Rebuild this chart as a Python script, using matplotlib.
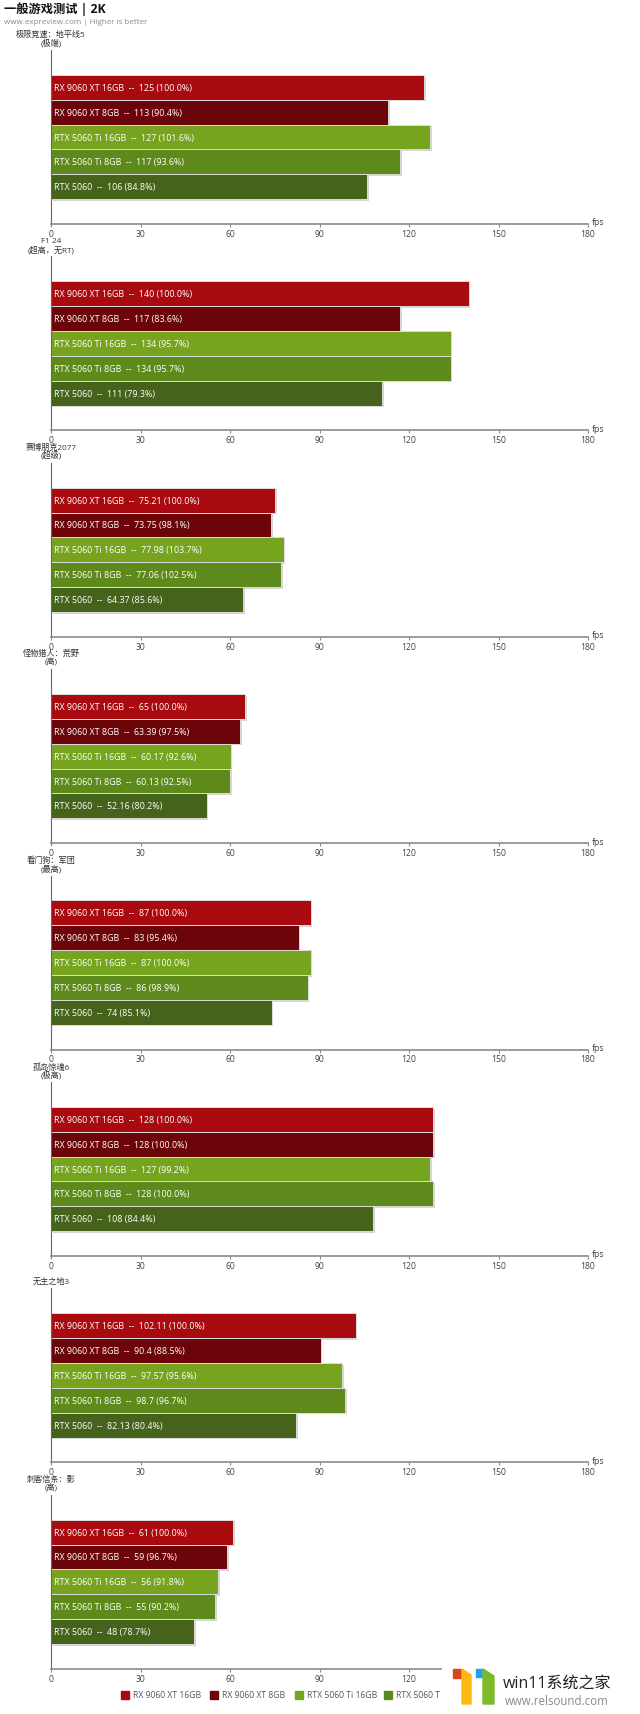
import matplotlib
matplotlib.use('Agg')
import matplotlib.pyplot as plt
import matplotlib.patheffects as pe
from matplotlib.patches import Rectangle, Polygon

plt.rcParams['font.family'] = ['Open Sans', 'Noto Sans CJK SC', 'DejaVu Sans']

# data
cards = ['RX 9060 XT 16GB', 'RX 9060 XT 8GB', 'RTX 5060 Ti 16GB', 'RTX 5060 Ti 8GB', 'RTX 5060']
colors = ['#a80a10', '#6c0509', '#77a41f', '#5e8a1b', '#45631a']

games = ['极限竞速：地平线5', 'F1 24', '赛博朋克2077', '怪物猎人：荒野',
         '看门狗：军团', '孤岛惊魂6', '无主之地3', '刺客信条：影']
settings = ['(极端)', '(超高，无RT)', '(超级)', '(高)', '(最高)', '(极高)', '', '(高)']

forza5 = [125, 113, 127, 117, 106]
forza5_pct = [100.0, 90.4, 101.6, 93.6, 84.8]
f1_24 = [140, 117, 134, 134, 111]
f1_24_pct = [100.0, 83.6, 95.7, 95.7, 79.3]
cp2077 = [75.21, 73.75, 77.98, 77.06, 64.37]
cp2077_pct = [100.0, 98.1, 103.7, 102.5, 85.6]
mhwilds = [65, 63.39, 60.17, 60.13, 52.16]
mhwilds_pct = [100.0, 97.5, 92.6, 92.5, 80.2]
wdlegion = [87, 83, 87, 86, 74]
wdlegion_pct = [100.0, 95.4, 100.0, 98.9, 85.1]
farcry6 = [128, 128, 127, 128, 108]
farcry6_pct = [100.0, 100.0, 99.2, 100.0, 84.4]
bl3 = [102.11, 90.4, 97.57, 98.7, 82.13]
bl3_pct = [100.0, 88.5, 95.6, 96.7, 80.4]
acshadows = [61, 59, 56, 55, 48]
acshadows_pct = [100.0, 96.7, 91.8, 90.2, 78.7]

values = [forza5, f1_24, cp2077, mhwilds, wdlegion, farcry6, bl3, acshadows]
pcts = [forza5_pct, f1_24_pct, cp2077_pct, mhwilds_pct, wdlegion_pct, farcry6_pct, bl3_pct, acshadows_pct]
xticks = [0, 30, 60, 90, 120, 150, 180]

W, H = 640, 1715
fig = plt.figure(figsize=(W / 100, H / 100), dpi=100)

# overlay in pixel coords for titles, legend and watermark
ov = fig.add_axes([0, 0, 1, 1])
ov.set_xlim(0, W)
ov.set_ylim(H, 0)
ov.axis('off')
ov.set_zorder(10)
ov.patch.set_alpha(0)

ov.text(4, 9, '一般游戏测试 | 2K', fontsize=8.8, fontweight='bold', color='#111', va='center',
        family=['Open Sans', 'Noto Sans CJK SC'])
ov.text(4, 23, 'www.expreview.com | Higher is better', fontsize=5.8, color='#8a8a8a', va='center')

left, ax_w, ax_h = 51, 537, 174
axis0, period = 225, 206.4
shadow = [pe.SimplePatchShadow(offset=(1.2, -1.2), shadow_rgbFace='#888888', alpha=0.35), pe.Normal()]

for k in range(len(games)):
    bottom = axis0 + period * k
    last = k == len(games) - 1
    w = 392 if last else ax_w
    ax = fig.add_axes([left / W, 1 - bottom / H, w / W, ax_h / H])
    xmax = 180 * w / ax_w
    bars = ax.barh(range(5), values[k], height=1.0, color=colors, edgecolor='#dcdcdc', linewidth=0.7)
    for b in bars:
        b.set_path_effects(shadow)
    for i, (c, v, p) in enumerate(zip(cards, values[k], pcts[k])):
        ax.text(1.0, i, f'{c}  --  {v:g} ({p:.1f}%)', color='white', fontsize=6.4, va='center')
    ax.set_xlim(0, xmax)
    ax.set_ylim(5.5, -1.5)
    ax.set_yticks([])
    ax.set_xticks([t for t in xticks if t <= xmax])
    ax.tick_params(axis='x', length=2.5, width=0.8, color='#888', labelsize=6.2, labelcolor='#444', pad=1)
    for s in ['top', 'right']:
        ax.spines[s].set_visible(False)
    ax.spines['left'].set_color('#666')
    ax.spines['left'].set_linewidth(0.8)
    ax.spines['bottom'].set_color('#8a8a8a')
    ax.spines['bottom'].set_linewidth(1.2)
    if not last:
        ax.text(1.008, 0.012, 'fps', transform=ax.transAxes, fontsize=6.2, color='#444', va='center', ha='left')
    ax.patch.set_alpha(0)

    # game label under the previous axis
    prev = bottom - period
    if settings[k]:
        ov.text(left, prev + 16.5, games[k], fontsize=5.9, color='#333', ha='center', va='center')
        ov.text(left, prev + 25, settings[k], fontsize=5.9, color='#333', ha='center', va='center')
    else:
        ov.text(left, prev + 25, games[k], fontsize=5.9, color='#333', ha='center', va='center')

# legend (cut off by the watermark on the right, as in the reference)
leg_x = [121, 210, 295, 384]
for x, c, lab in zip(leg_x, colors, cards):
    ov.add_patch(Rectangle((x, 1692), 8, 8, color=c))
    shown = lab if x + 12 + 60 < 441 else lab[:10]
    ov.text(x + 12, 1696, shown, fontsize=6.2, color='#555', va='center')

# watermark
ov.add_patch(Rectangle((442, 1660), 198, 55, color='white', zorder=5))
ov.add_patch(Rectangle((453, 1670), 9, 9, color='#d8461b', zorder=6))
ov.add_patch(Polygon([(462, 1670), (471, 1676), (471, 1705), (462, 1705)], color='#fdb813', zorder=6))
ov.add_patch(Rectangle((476, 1670), 7, 8, color='#1da1f2', zorder=6))
ov.add_patch(Polygon([(483, 1670), (494, 1677), (494, 1705), (483, 1705)], color='#7db92b', zorder=6))
ov.text(503, 1684, 'win11系统之家', fontsize=11.5, color='#222', va='center', zorder=7,
        family=['Open Sans', 'Noto Sans CJK SC'])
ov.text(505, 1702, 'www.relsound.com', fontsize=8.3, color='#8a8a8a', va='center', zorder=7)

fig.savefig('out.png', dpi=100)
